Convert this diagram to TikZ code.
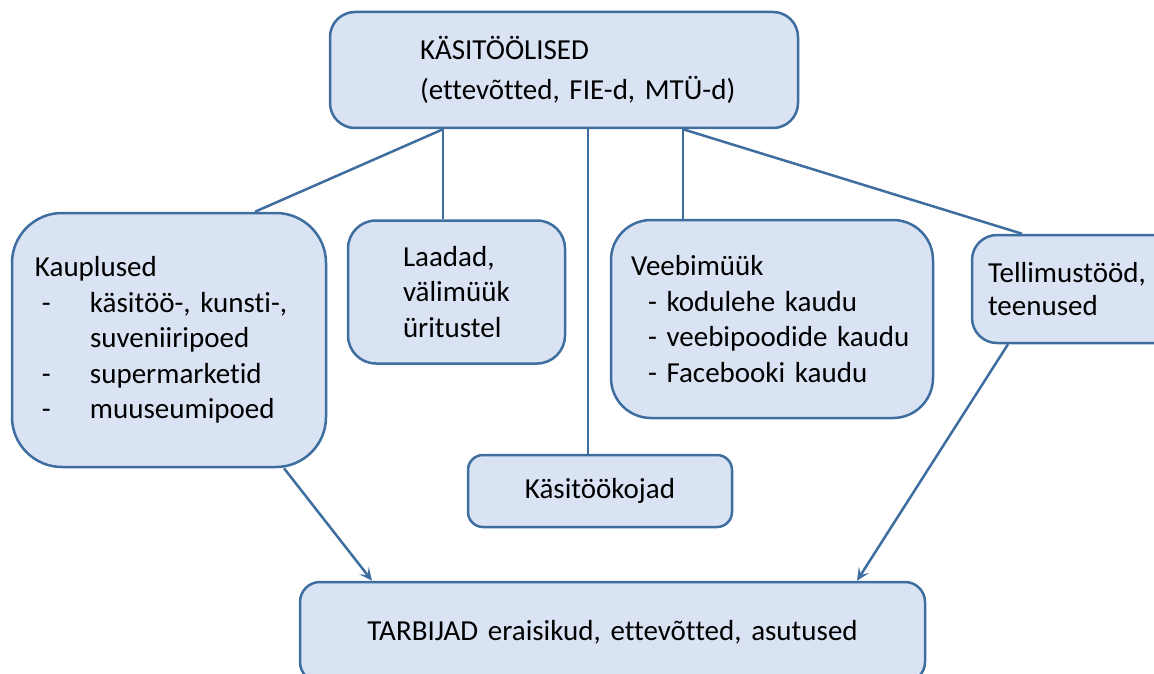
\documentclass[tikz,border=0pt]{standalone}
\usepackage{fontspec}
\setmainfont{Carlito}[Ligatures=NoCommon]
\usetikzlibrary{arrows.meta}
\definecolor{boxfill}{RGB}{218,227,243}
\definecolor{boxline}{RGB}{62,109,159}

\begin{document}
\begin{tikzpicture}[x=1pt,y=-1pt,
        box/.style={draw=boxline,fill=boxfill,line width=2.5pt,inner sep=0pt,align=left,font=\fontsize{29}{35.5}\selectfont},
        link/.style={draw=boxline,line width=2.5pt},
        arrowlink/.style={link,-{Stealth[length=13pt,width=12pt,inset=6pt]}}]
        \useasboundingbox (0,0) rectangle (1154,674);
        \clip (0,0) rectangle (1154,674);
        \coordinate (p_top) at (564,70);
        \coordinate (p_kaup) at (169,340);
        \coordinate (p_laad) at (456.5,292);
        \coordinate (p_veeb) at (772,319);
        \coordinate (p_tell) at (1076,289);
        \coordinate (p_koj) at (600,491);
        \coordinate (p_tarb) at (612.5,632);
        \node[box,text width=468pt,minimum height=116pt,rounded corners=25pt] (Kasitoolised) at (p_top){\hspace*{90pt}KÄSITÖÖLISED\\[4.5pt]\hspace*{90pt}(ettevõtted, FIE-d, MTÜ-d)};
        \node[box,text width=314pt,minimum height=254pt,rounded corners=50pt] (Kauplused) at (p_kaup){\hspace*{23pt}Kauplused\\
            \hspace*{30pt}\makebox[48pt][l]{-}käsitöö-, kunsti-,\\
            \hspace*{78pt}suveniiripoed\\
            \hspace*{30pt}\makebox[48pt][l]{-}supermarketid\\
            \hspace*{30pt}\makebox[48pt][l]{-}muuseumipoed};
        \node[box,text width=217pt,minimum height=143pt,rounded corners=28pt] (Laadad) at (p_laad){\hspace*{55pt}Laadad,\\\hspace*{55pt}välimüük\\\hspace*{55pt}üritustel};
        \node[box,text width=322pt,minimum height=198pt,rounded corners=40pt] (Veebimyyk) at (p_veeb){\hspace*{20pt}Veebimüük\\
            \hspace*{37pt}- kodulehe kaudu\\
            \hspace*{37pt}- veebipoodide kaudu\\
            \hspace*{37pt}- Facebooki kaudu};
        \node[box,text width=208pt,minimum height=108pt,rounded corners=25pt] (Tellimustood) at (p_tell){\hspace*{16pt}Tellimustööd,\\[-2pt]\hspace*{16pt}teenused};
        \node[box,align=center,text width=264pt,minimum height=72pt,rounded corners=15pt] (Kojad) at (p_koj){Käsitöökojad};
        \node[box,align=center,text width=625pt,minimum height=100pt,rounded corners=20pt] (Tarbijad) at (p_tarb){TARBIJAD eraisikud, ettevõtted, asutused};
        \coordinate (x1) at (443,0);
        \coordinate (x2) at (588,0);
        \coordinate (x3) at (683,0);
        \coordinate (x4) at (255,0);
        \coordinate (x5) at (1022,0);
        \coordinate (x6) at (284,0);
        \coordinate (x7) at (372,0);
        \coordinate (x8) at (1008,0);
        \coordinate (x9) at (857,0);
        \draw[link] (x1 |- Kasitoolised.south) -- (x4 |- Kauplused.north);
        \draw[link] (x1 |- Kasitoolised.south) -- (x1 |- Laadad.north);
        \draw[link] (x2 |- Kasitoolised.south) -- (x2 |- Kojad.north);
        \draw[link] (x3 |- Kasitoolised.south) -- (x3 |- Veebimyyk.north);
        \draw[link] (x3 |- Kasitoolised.south) -- (x5 |- Tellimustood.north);
        \draw[arrowlink] (x6 |- Kauplused.south) -- (x7 |- Tarbijad.north);
        \draw[arrowlink] (x8 |- Tellimustood.south) -- (x9 |- Tarbijad.north);
    \end{tikzpicture}
\end{document}
